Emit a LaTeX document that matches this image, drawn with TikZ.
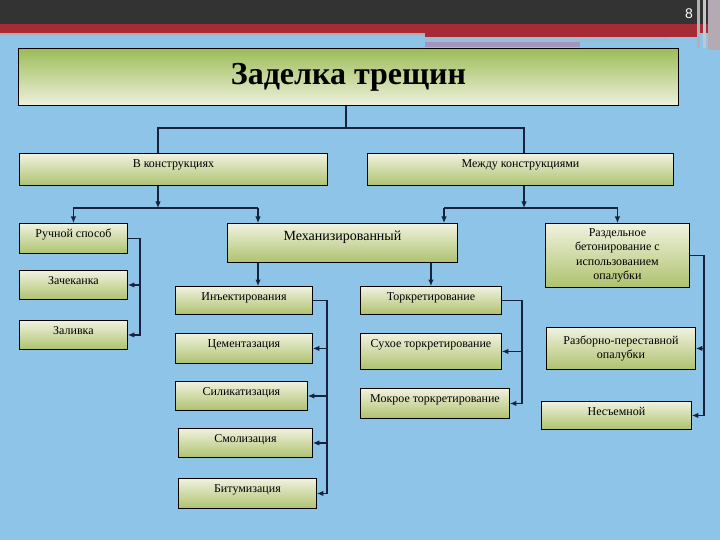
\documentclass[tikz,border=0pt]{standalone}
\usepackage{fontspec}
\setmainfont{Liberation Serif}
\newfontfamily\numfont{Liberation Sans}
\usetikzlibrary{arrows.meta}
\definecolor{sky}{RGB}{142,196,232}
\definecolor{hdark}{RGB}{51,51,51}
\definecolor{hred}{RGB}{165,44,55}
\definecolor{hlav}{RGB}{160,150,190}
\definecolor{hcyan}{RGB}{150,190,215}
\definecolor{hgray}{RGB}{180,170,180}
\definecolor{boxtop}{RGB}{241,242,223}
\definecolor{boxbot}{RGB}{174,194,110}
\definecolor{ttop}{RGB}{157,188,88}
\definecolor{tbot}{RGB}{238,241,220}
\definecolor{lineblue}{RGB}{23,34,63}

\begin{document}
\begin{tikzpicture}[x=1pt,y=-1pt,
  box/.style={draw=black, line width=0.9pt, anchor=north west, inner sep=0pt,
    top color=boxtop, bottom color=boxbot, font=\fontsize{12}{14}\selectfont},
  one/.style={text height=7pt, text depth=#1},
  conn/.style={draw=lineblue, line width=1.1pt},
  arr/.style={conn, -{Latex[length=6.5pt,width=5.5pt]}}]

% background and header
\fill[sky] (0,0) rectangle (720,540);
\useasboundingbox (0,0) rectangle (720,540);
\fill[hdark] (0,0) rectangle (720,24);
\fill[hred] (0,24) rectangle (720,33);
\fill[hgray] (0,33) rectangle (425,35);
\fill[hred] (425,33) rectangle (700,37);
\fill[hcyan] (425,37) rectangle (670,42);
\fill[hlav] (425,42) rectangle (580,47);
\fill[gray!60] (697,0) rectangle (700,48);
\fill[gray!45] (703,0) rectangle (706,48);
\fill[hgray] (708,0) rectangle (720,50);
\node[text=white, font=\numfont\fontsize{14}{14}\selectfont] (pg) at (689,14) {8};

% boxes
\node[box, minimum width=660pt, minimum height=57pt, top color=ttop, bottom color=tbot,
  font=\bfseries\fontsize{32}{34}\selectfont] (title) at (18,48) {Заделка трещин};
\node[box, one=10pt, minimum width=308pt, minimum height=32pt] (vk) at (19,153) {В конструкциях};
\node[box, one=10pt, minimum width=306pt, minimum height=32pt] (mk) at (367,153) {Между конструкциями};
\node[box, one=8pt, minimum width=108pt, minimum height=30pt] (ruch) at (19,223) {Ручной способ};
\node[box, one=7pt, minimum width=108pt, minimum height=29pt] (zach) at (19,270) {Зачеканка};
\node[box, one=7pt, minimum width=108pt, minimum height=29pt] (zal) at (19,320) {Заливка};
\node[box, one=11pt, minimum width=230pt, minimum height=39pt, font=\fontsize{14}{16}\selectfont] (mech) at (227,223) {Механизированный};
\node[box, one=6pt, minimum width=137pt, minimum height=28pt] (inj) at (175,286) {Инъектирования};
\node[box, one=8pt, minimum width=137pt, minimum height=30pt] (cem) at (175,333) {Цементазация};
\node[box, one=7pt, minimum width=132pt, minimum height=29pt] (sil) at (175,381) {Силикатизация};
\node[box, one=7pt, minimum width=134pt, minimum height=29pt] (smol) at (178,428) {Смолизация};
\node[box, one=8pt, minimum width=138pt, minimum height=30pt] (bit) at (178,478) {Битумизация};
\node[box, one=6pt, minimum width=141pt, minimum height=28pt] (tork) at (360,286) {Торкретирование};
\node[box, one=14pt, minimum width=141pt, minimum height=36pt] (sukh) at (360,333) {Сухое торкретирование};
\node[box, one=8pt, minimum width=149pt, minimum height=30pt] (mokr) at (360,388) {Мокрое торкретирование};
\node[box, align=center, minimum width=144pt, minimum height=64pt, font=\fontsize{12}{14.5}\selectfont] (razd) at (545,223)
  {Раздельное\\бетонирование с\\использованием\\опалубки};
\node[box, align=center, minimum width=149pt, minimum height=42pt] (razb) at (546,327) {Разборно-переставной\\опалубки};
\node[box, one=6pt, minimum width=150pt, minimum height=28pt] (nes) at (541,401) {Несъемной};

% junctions
\coordinate (t1) at (346,128);
\coordinate (j1) at (158,208);
\coordinate (j2) at (524,208);
\coordinate (m1) at (258,208);
\coordinate (m2) at (444,208);
\coordinate (rs) at (140,0);
\coordinate (is) at (327,0);
\coordinate (ts) at (522,0);
\coordinate (rz) at (704,0);

% connectors
\draw[conn] (title.south -| t1) -- (t1);
\draw[conn] (vk.north -| j1) |- (t1) -| (mk.north -| j2);
\draw[arr] (vk.south -| j1) -- (j1);
\draw[arr] (mk.south -| j2) -- (j2);
\draw[arr] (m1) -| (ruch.north);
\draw[arr] (m1) -- (m1 |- mech.north);
\draw[arr] (m2) -| (razd.north);
\draw[arr] (m2) -- (m2 |- mech.north);
\draw[arr] (m1 |- mech.south) -- (m1 |- inj.north);
\draw[arr] (tork.north |- mech.south) -- (tork.north);

\draw[arr] (ruch.east) -| (rs |- zach.east) -- (zach.east);
\draw[arr] (rs |- zach.east) |- (zal.east);

\draw[arr] (inj.east) -| (is |- cem.east) -- (cem.east);
\draw[arr] (is |- cem.east) |- (sil.east);
\draw[arr] (is |- sil.east) |- (smol.east);
\draw[arr] (is |- smol.east) |- (bit.east);

\draw[arr] (tork.east) -| (ts |- sukh.east) -- (sukh.east);
\draw[arr] (ts |- sukh.east) |- (mokr.east);

\draw[arr] (razd.east) -| (rz |- razb.east) -- (razb.east);
\draw[arr] (rz |- razb.east) |- (nes.east);
\end{tikzpicture}
\end{document}
